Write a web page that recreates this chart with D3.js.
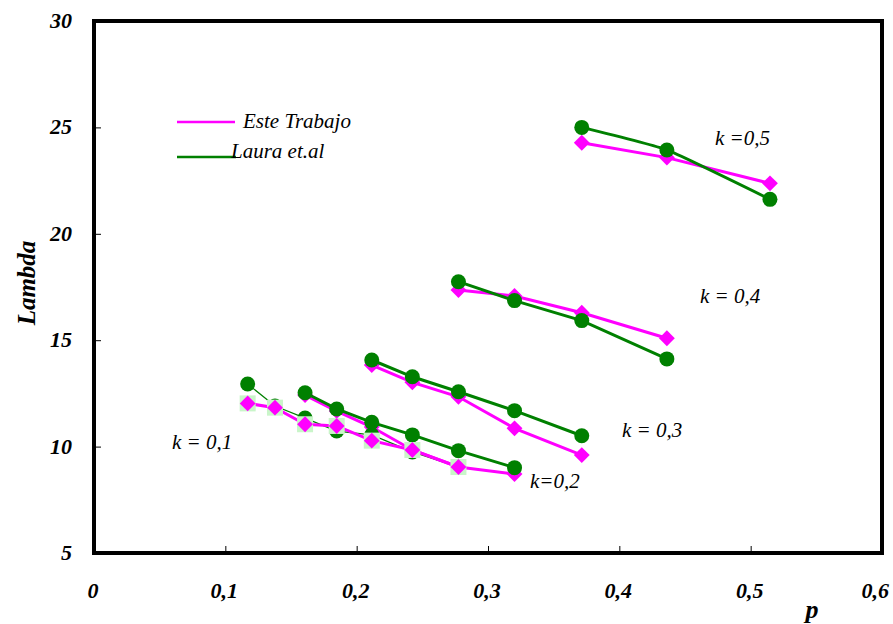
<!DOCTYPE html>
<html><head><meta charset="utf-8">
<script src="https://cdn.jsdelivr.net/npm/d3@7"></script>
<style>body{margin:0;background:#fff}svg{display:block}</style>
</head><body>
<script>
// ---- data ----
const kLabels = ["k = 0,1", "k=0,2", "k = 0,3", "k = 0,4", "k =0,5"];
const pK1 = [0.1170, 0.1378, 0.1607, 0.1848, 0.2115, 0.2424, 0.2775];
const pK2 = [0.1607, 0.1848, 0.2115, 0.2424, 0.2775, 0.3202];
const pK3 = [0.2115, 0.2424, 0.2775, 0.3202, 0.3714];
const pK4 = [0.2775, 0.3202, 0.3714, 0.4362];
const pK5 = [0.3714, 0.4362, 0.5147];
const esteK1 = [12.03, 11.83, 11.05, 10.97, 10.28, 9.84, 9.04];
const esteK2 = [12.42, 11.67, 10.92, 9.84, 9.04, 8.71];
const esteK3 = [13.83, 13.02, 12.34, 10.86, 9.60];
const esteK4 = [17.36, 17.08, 16.29, 15.09];
const esteK5 = [24.28, 23.58, 22.37];
const lauraK1 = [12.94, 11.91, 11.34, 10.73, 10.55, 9.75, 9.04];
const lauraK2 = [12.53, 11.77, 11.14, 10.55, 9.81, 9.01];
const lauraK3 = [14.07, 13.28, 12.58, 11.69, 10.51];
const lauraK4 = [17.75, 16.86, 15.92, 14.12];
const lauraK5 = [25.00, 23.94, 21.62];
const xTicks = [0, 0.1, 0.2, 0.3, 0.4, 0.5, 0.6];
const xTickLabels = ["0", "0,1", "0,2", "0,3", "0,4", "0,5", "0,6"];
const yTicks = [5, 10, 15, 20, 25, 30];
const seriesNames = ["Este Trabajo", "Laura et.al"];

const W = 893, H = 624;
const MAG = "#ff00ff", GRN = "#008000";
const FONT = "'Liberation Serif', 'Times New Roman', serif";
const svg = d3.select("body").append("svg").attr("width", W).attr("height", H)
  .attr("font-family", FONT);
const x = d3.scaleLinear().domain([0, 0.6]).range([94, 882]);
const y = d3.scaleLinear().domain([5, 30]).range([553, 21]);

const ps = [pK1, pK2, pK3, pK4, pK5];
const este = [esteK1, esteK2, esteK3, esteK4, esteK5];
const laura = [lauraK1, lauraK2, lauraK3, lauraK4, lauraK5];
const pts = (pArr, vArr) => pArr.map((p, i) => [p, vArr[i]]);

// ticks (inward)
const xAxis = d3.axisTop(x).tickValues(xTicks.slice(1, -1)).tickSize(7).tickFormat("");
svg.append("g").attr("transform", `translate(0,${y(5)})`).call(xAxis)
  .call(g => { g.select(".domain").remove(); g.selectAll("line").attr("stroke", "#000").attr("stroke-width", 1); });
const yAxis = d3.axisRight(y).tickValues(yTicks.slice(1, -1)).tickSize(7).tickFormat("");
svg.append("g").attr("transform", `translate(${x(0)},0)`).call(yAxis)
  .call(g => { g.select(".domain").remove(); g.selectAll("line").attr("stroke", "#000").attr("stroke-width", 1); });

// frame
svg.append("rect").attr("x", x(0)).attr("y", y(30)).attr("width", x(0.6) - x(0)).attr("height", y(5) - y(30))
  .attr("fill", "none").attr("stroke", "#000").attr("stroke-width", 4);

// tick labels
svg.append("g").selectAll("text").data(xTicks).join("text")
  .attr("x", (d, i) => i === xTicks.length - 1 ? 889 : x(d) - 1)
  .attr("y", 598).attr("text-anchor", (d, i) => i === xTicks.length - 1 ? "end" : "middle")
  .attr("font-size", 22).attr("font-weight", "bold").attr("font-style", "italic")
  .text((d, i) => xTickLabels[i]);
svg.append("g").selectAll("text").data(yTicks).join("text")
  .attr("x", 72).attr("y", d => y(d) + 7).attr("text-anchor", "end")
  .attr("font-size", 22).attr("font-weight", "bold").attr("font-style", "italic")
  .text(d => d);

// axis titles
svg.append("text").attr("x", 812).attr("y", 618).attr("text-anchor", "middle")
  .attr("font-size", 26).attr("font-weight", "bold").attr("font-style", "italic").text("p");
svg.append("text").attr("transform", "translate(35,283) rotate(-90)").attr("text-anchor", "middle")
  .attr("font-size", 25).attr("font-weight", "bold").attr("font-style", "italic").text("Lambda");

const line = d3.line().x(d => x(d[0])).y(d => y(d[1]));
const curved = d3.line().x(d => x(d[0])).y(d => y(d[1])).curve(d3.curveCardinal.tension(0.6));
const diamond = d3.symbol().type(d3.symbolDiamond2).size(160);

function drawMag(i, halo) {
  const data = pts(ps[i], este[i]);
  svg.append("path").datum(data).attr("d", line).attr("fill", "none").attr("stroke", MAG).attr("stroke-width", 3);
  if (halo) {
    svg.append("g").selectAll("rect").data(data).join("rect")
      .attr("x", d => x(d[0]) - 8).attr("y", d => y(d[1]) - 8).attr("width", 16).attr("height", 16)
      .attr("fill", "#c9f5c9");
  }
  svg.append("g").selectAll("path").data(data).join("path")
    .attr("transform", d => `translate(${x(d[0])},${y(d[1])})`).attr("d", diamond).attr("fill", MAG);
}
function drawGrn(i) {
  const data = pts(ps[i], laura[i]);
  svg.append("path").datum(data).attr("d", i === 4 ? curved : line).attr("fill", "none")
    .attr("stroke", GRN).attr("stroke-width", i === 0 ? 1.2 : 3);
  svg.append("g").selectAll("circle").data(data).join("circle")
    .attr("cx", d => x(d[0])).attr("cy", d => y(d[1])).attr("r", 7.5).attr("fill", GRN);
}
[1, 2, 3, 4].forEach(i => drawMag(i, false));
[0, 1, 2, 3, 4].forEach(i => drawGrn(i));
drawMag(0, true);

// k labels
const kPos = [[172, 449], [530, 488], [622, 437], [700, 303], [715, 145]];
svg.append("g").selectAll("text").data(kLabels).join("text")
  .attr("x", (d, i) => kPos[i][0]).attr("y", (d, i) => kPos[i][1])
  .attr("font-size", 21).attr("font-style", "italic").text(d => d);

// legend
const leg = svg.append("g");
leg.append("line").attr("x1", 177).attr("x2", 235).attr("y1", 122).attr("y2", 122).attr("stroke", MAG).attr("stroke-width", 2.5);
leg.append("text").attr("x", 243).attr("y", 128).attr("font-size", 21).attr("font-style", "italic").text(seriesNames[0]);
leg.append("line").attr("x1", 177).attr("x2", 236).attr("y1", 157).attr("y2", 157).attr("stroke", GRN).attr("stroke-width", 2.5);
leg.append("text").attr("x", 231).attr("y", 158).attr("font-size", 21).attr("font-style", "italic").text(seriesNames[1]);
</script>
</body></html>
